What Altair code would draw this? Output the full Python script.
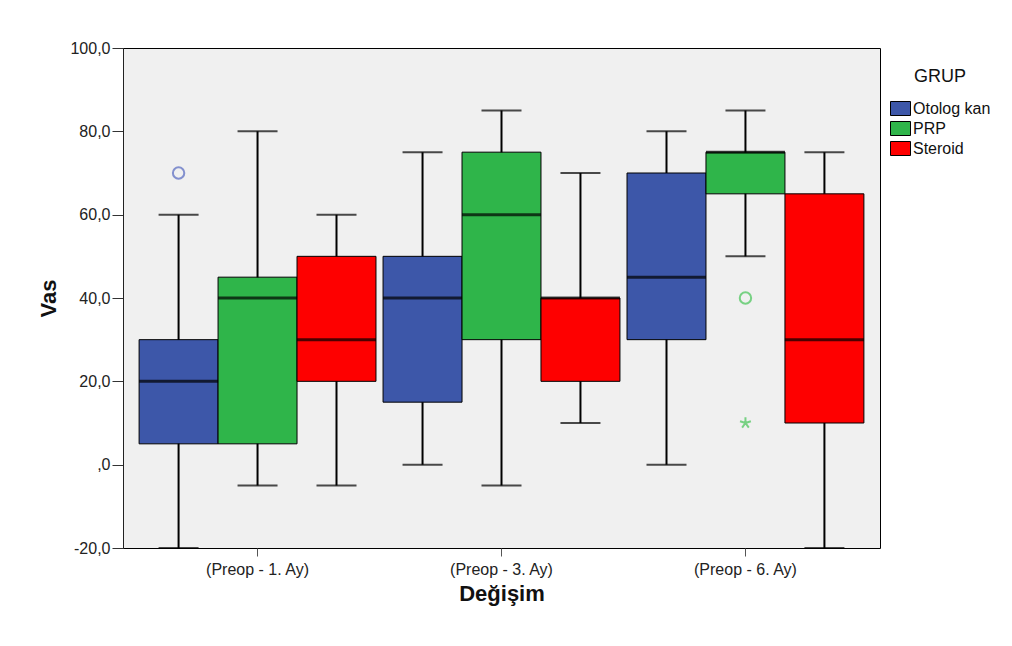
import altair as alt
import pandas as pd

categories = ["(Preop - 1. Ay)", "(Preop - 3. Ay)", "(Preop - 6. Ay)"]
groups = ["Otolog kan", "PRP", "Steroid"]
colors = ["#3d57a9", "#2fb54a", "#fe0000"]

# per (category, group) in order: cat1 x groups, cat2 x groups, cat3 x groups
lo = [-20, -5, -5, 0, -5, 10, 0, 50, -20]
q1 = [5, 5, 20, 15, 30, 20, 30, 65, 10]
med = [20, 40, 30, 40, 60, 40, 45, 75, 30]
q3 = [30, 45, 50, 50, 75, 40, 70, 75, 65]
hi = [60, 80, 60, 75, 85, 70, 80, 85, 75]

out_cat = ["(Preop - 1. Ay)", "(Preop - 6. Ay)", "(Preop - 6. Ay)"]
out_grp = ["Otolog kan", "PRP", "PRP"]
out_val = [70, 40, 10]
out_kind = ["circle", "circle", "star"]
out_col = ["#5568c0", "#44c455", "#44c455"]

STAR = "M0,0L0,-1M0,0L0.951,-0.309M0,0L0.588,0.809M0,0L-0.588,0.809M0,0L-0.951,-0.309"
RECT = "M-1,-0.7H1V0.7H-1Z"

rows = []
i = 0
for c in categories:
    for g in groups:
        rows.append(dict(cat=c, grp=g, lo=lo[i], q1=q1[i], med=med[i], q3=q3[i], hi=hi[i]))
        i += 1
df = pd.DataFrame(rows)

odf = pd.DataFrame(dict(cat=out_cat, grp=out_grp, val=out_val,
                        shp=[("circle" if k == "circle" else STAR) for k in out_kind],
                        col=out_col))

FONT = "Liberation Sans"

xenc = alt.X("cat:N", sort=categories,
             scale=alt.Scale(paddingInner=0.029, paddingOuter=0.066),
             axis=alt.Axis(title="Değişim", labelAngle=0, labelFontSize=16, labelColor="#222",
                           titleFontSize=22, titleFontWeight="bold", titleColor="#111",
                           tickSize=8, tickColor="#555", domain=False, labelPadding=5,
                           titlePadding=6, labelFont=FONT, titleFont=FONT))
xoff = alt.XOffset("grp:N", sort=groups, scale=alt.Scale(paddingInner=0, paddingOuter=0))
yscale = alt.Scale(domain=[-20, 100], nice=False, zero=False)

yenc_lo = alt.Y("lo:Q", scale=yscale,
                axis=alt.Axis(title="Vas", values=[-20, 0, 20, 40, 60, 80, 100],
                              labelExpr="datum.value == 0 ? ',0' : (datum.value < 0 ? '-' : '') + replace(format(abs(datum.value), '.1f'), '.', ',')",
                              labelFontSize=16, labelColor="#222", titleFontSize=22,
                              titleFontWeight="bold", titleColor="#111", tickSize=11,
                              tickColor="#333", domainColor="#222", labelPadding=2,
                              titlePadding=9, grid=False, labelFont=FONT, titleFont=FONT))

base = alt.Chart(df)

whisker = base.mark_rule(color="black", strokeWidth=2).encode(
    x=xenc, xOffset=xoff, y=yenc_lo, y2="hi:Q")

box = base.mark_bar(stroke="black", strokeWidth=1, opacity=1).encode(
    x=xenc, xOffset=xoff,
    y=alt.Y("q1:Q", scale=yscale),
    y2="q3:Q",
    color=alt.Color("grp:N", sort=groups,
                    scale=alt.Scale(domain=groups, range=colors),
                    legend=alt.Legend(title="GRUP", symbolType=RECT, symbolSize=400,
                                      symbolStrokeColor="black", symbolStrokeWidth=1,
                                      labelFontSize=16, titleFontSize=18, titleFontWeight="normal",
                                      titleAnchor="middle", titlePadding=12, labelFont=FONT,
                                      titleFont=FONT, labelColor="#111", titleColor="#111",
                                      rowPadding=0, orient="none", legendX=767, legendY=20,
                                      padding=0, symbolOffset=0, labelOffset=2)))

median = base.mark_tick(color="black", thickness=3, size=79, orient="horizontal").encode(
    x=xenc, xOffset=xoff, y=alt.Y("med:Q", scale=yscale))

cap_lo = base.mark_tick(color="black", thickness=2, size=40, orient="horizontal").encode(
    x=xenc, xOffset=xoff, y=alt.Y("lo:Q", scale=yscale))
cap_hi = base.mark_tick(color="black", thickness=2, size=40, orient="horizontal").encode(
    x=xenc, xOffset=xoff, y=alt.Y("hi:Q", scale=yscale))

outl = alt.Chart(odf).mark_point(filled=False, strokeWidth=2, size=130).encode(
    x=xenc, xOffset=xoff,
    y=alt.Y("val:Q", scale=yscale),
    shape=alt.Shape("shp:N", scale=None),
    stroke=alt.Stroke("col:N", scale=None))

chart = alt.layer(whisker, box, median, cap_lo, cap_hi, outl).properties(
    width=757, height=500,
    autosize=alt.AutoSizeParams(type="none"),
    padding={"left": 115, "top": 40, "right": 122, "bottom": 60},
    background="white",
).configure_view(fill="#f0f0f0", stroke="black", strokeWidth=1)

chart.save("out.html", embed_options={"renderer": "svg", "actions": False})
